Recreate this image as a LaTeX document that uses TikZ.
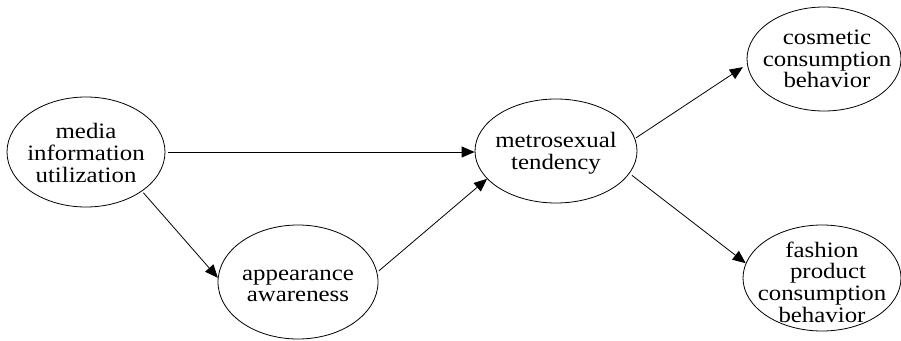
\documentclass[tikz,border=0pt]{standalone}
\usepackage{fontspec}
\setmainfont[FakeStretch=1.13]{Liberation Serif}
\usetikzlibrary{shapes.geometric,arrows.meta}
\begin{document}
\begin{tikzpicture}[x=1pt,y=-1pt,
  oval/.style={ellipse,draw,line width=0.8pt,inner sep=0pt},
  lbl/.style={align=center,inner sep=0pt,font=\fontsize{22}{21.7}\selectfont},
  link/.style={-{Triangle[length=13pt,width=11pt]},line width=0.8pt}]
\useasboundingbox (0,0) rectangle (901,340);

% construct ellipses
\node[oval,minimum width=158pt,minimum height=110pt] (media)  at (86,152)  {};
\node[oval,minimum width=160pt,minimum height=114pt] (appear) at (298,282) {};
\node[oval,minimum width=162pt,minimum height=104pt] (metro)  at (556,151) {};
\node[oval,minimum width=154pt,minimum height=104pt] (cosm)   at (824,59)  {};
\node[oval,minimum width=158pt,minimum height=106pt] (fash)   at (822,278) {};

% construct names
\node[lbl] (media-t)  at ([yshift=-1pt]media)  {media\\information\\utilization};
\node[lbl] (appear-t) at ([yshift=-4pt]appear) {appearance\\awareness};
\node[lbl] (metro-t)  at ([yshift=-2pt]metro)  {metrosexual\\tendency};
\node[lbl] (cosm-t)   at ([xshift=3pt]cosm) {cosmetic\\consumption\\behavior};
\node[lbl] (fash-t)   at ([yshift=-4pt]fash) {fashion\\\hspace*{12pt}product\\consumption\\behavior};

% paths
\draw[link,shorten <=3pt] (media.0) -- (media.0 -| metro.west);
\draw[link,shorten <=2pt] (media.-35) -- (appear.177);
\draw[link,shorten <=2pt] (appear.7) -- (metro.-158);
\draw[link,shorten <=1pt,shorten >=5pt] (metro.9) -- (cosm.184);
\draw[link,shorten <=3pt] (metro.-17.5) -- (fash.169);
\end{tikzpicture}
\end{document}
